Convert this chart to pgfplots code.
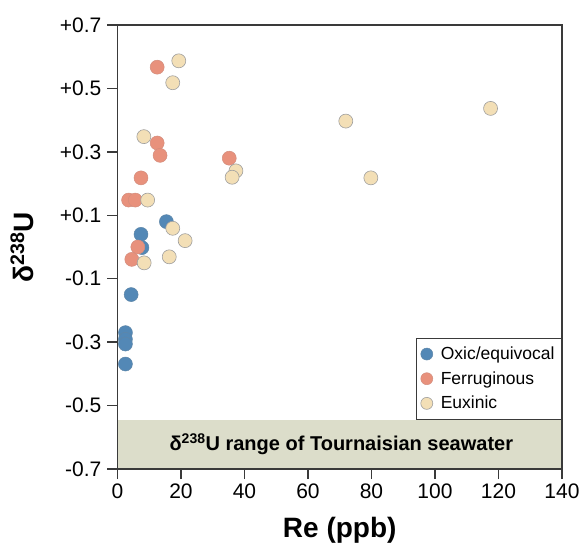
\documentclass[border=0pt]{standalone}
\usepackage{fontspec}
\setmainfont{Liberation Sans}
\usepackage{pgfplots}
\pgfplotsset{compat=1.18}
\definecolor{oxic}{HTML}{5388B6}
\definecolor{ferr}{HTML}{E8917C}
\definecolor{eux}{HTML}{F3DFB6}
\definecolor{band}{HTML}{DCDDCA}
\definecolor{axgray}{HTML}{3A3A3A}
\begin{document}
\begin{tikzpicture}
\begin{axis}[
  scale only axis, width=444.5bp, height=444bp,
  xmin=0, xmax=140, ymin=-0.7, ymax=0.7,
  xtick={0,20,40,60,80,100,120,140},
  ytick={-0.7,-0.5,-0.3,-0.1,0.1,0.3,0.5,0.7},
  yticklabels={-0.7,-0.5,-0.3,-0.1,+0.1,+0.3,+0.5,+0.7},
  tick align=outside, tick pos=left,
  major tick length=10bp,
  axis line style={axgray, line width=1.3bp},
  every tick/.style={axgray, line width=1.3bp},
  ticklabel style={font=\fontsize{21bp}{24bp}\selectfont},
  yticklabel style={inner xsep=6bp},
  xticklabel style={inner ysep=5bp},
  /pgf/number format/assume math mode=true,
  axis on top,
  xlabel={Re (ppb)},
  ylabel={δ\textsuperscript{238}U},
  label style={font=\fontsize{28bp}{31bp}\selectfont\bfseries},
  xlabel style={at={(axis description cs:0.5,-0.1554)}, anchor=base},
  ylabel style={at={(axis description cs:-0.215,0.5)}, anchor=center},
  legend cell align=left,
  legend style={at={(axis description cs:1,0.1107)}, anchor=south east,
    draw=axgray, line width=0.8bp, fill=white,
    font=\fontsize{17.5bp}{20bp}\selectfont, row sep=6.5bp,
    inner xsep=4bp, inner ysep=7bp,
    nodes={inner xsep=3bp},
    /tikz/every odd column/.append style={column sep=5bp}},
  legend image code/.code={\draw[#1, mark size=6bp] plot coordinates {(0bp,0bp)};},
]
\addplot[fill=band, draw=none, forget plot] coordinates {(0,-0.7) (140,-0.7) (140,-0.545) (0,-0.545)} -- cycle;

\addplot[only marks, mark=*, mark size=7bp, mark options={fill=oxic, draw=oxic!75!gray, line width=0.5bp}] coordinates {
(15.4,0.080) (7.4,0.040) (7.7,-0.002) (4.3,-0.150) (2.5,-0.270) (2.5,-0.291) (2.5,-0.306) (2.5,-0.369)
};
\addlegendentry{Oxic/equivocal}

\addplot[only marks, mark=*, mark size=7bp, mark options={fill=ferr, draw=ferr!80!gray, line width=0.5bp}] coordinates {
(12.5,0.567) (12.5,0.328) (13.4,0.289) (35.2,0.280) (7.4,0.218) (3.5,0.148) (5.6,0.148) (6.4,0.000) (4.5,-0.039)
};
\addlegendentry{Ferruginous}

\addplot[only marks, mark=*, mark size=7bp, mark options={fill=eux, draw=gray!75, line width=0.6bp}] coordinates {
(19.3,0.587) (17.4,0.518) (8.3,0.348) (37.3,0.240) (36.1,0.220) (9.5,0.148) (17.4,0.059) (21.3,0.020) (8.4,-0.050) (16.3,-0.031) (71.9,0.397) (79.8,0.218) (117.5,0.437)
};
\addlegendentry{Euxinic}

\node[font=\fontsize{20bp}{23bp}\selectfont\bfseries] at (axis cs:70.5,-0.622) {δ\textsuperscript{238}U range of Tournaisian seawater};
\end{axis}
\pgfresetboundingbox
\useasboundingbox (-117.5bp,-79bp) rectangle (465.5bp,469bp);
\end{tikzpicture}
\end{document}
